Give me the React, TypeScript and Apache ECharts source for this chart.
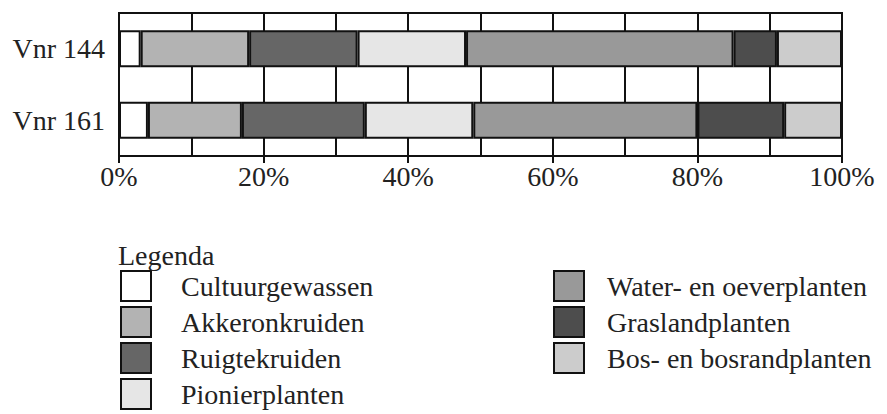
import React, { useEffect, useRef } from "react";
import * as echarts from "echarts";

const categories = ["Vnr 144", "Vnr 161"];
const seriesNames = [
  "Cultuurgewassen",
  "Akkeronkruiden",
  "Ruigtekruiden",
  "Pionierplanten",
  "Water- en oeverplanten",
  "Graslandplanten",
  "Bos- en bosrandplanten",
];
const cultuurgewassen = [3, 4];
const akkeronkruiden = [15, 13];
const ruigtekruiden = [15, 17];
const pionierplanten = [15, 15];
const waterplanten = [37, 31];
const graslandplanten = [6, 12];
const bosplanten = [9, 8];
const seriesValues = [
  cultuurgewassen,
  akkeronkruiden,
  ruigtekruiden,
  pionierplanten,
  waterplanten,
  graslandplanten,
  bosplanten,
];
const colors = ["#ffffff", "#b3b3b3", "#666666", "#e6e6e6", "#999999", "#4d4d4d", "#cccccc"];

const FONT = "Liberation Serif";
const INK = "#222222";

export default function App() {
  const ref = useRef<HTMLDivElement>(null);
  useEffect(() => {
    if (!ref.current) return;
    const chart = echarts.init(ref.current, null, { renderer: "svg" });
    const legendCommon = {
      orient: "vertical",
      top: 270,
      height: 160,
      padding: 0,
      itemWidth: 30,
      itemHeight: 30,
      itemGap: 4,
      icon: "rect",
      selectedMode: false,
    };
    chart.setOption({
      animation: false,
      textStyle: { fontFamily: FONT, color: INK },
      title: {
        text: "Legenda",
        left: 118,
        top: 241,
        padding: 0,
        textStyle: { fontFamily: FONT, fontSize: 28, fontWeight: "normal", color: INK },
      },
      grid: {
        left: 119,
        right: 45,
        top: 13,
        bottom: 258,
        show: true,
        borderColor: "#111",
        borderWidth: 2,
      },
      legend: [
        {
          ...legendCommon,
          data: seriesNames.slice(0, 4),
          left: 120,
          textStyle: {
            fontFamily: FONT,
            fontSize: 28,
            color: INK,
            lineHeight: 22,
            padding: [8, 0, 0, 25],
          },
        },
        {
          ...legendCommon,
          data: seriesNames.slice(4),
          left: 553,
          textStyle: {
            fontFamily: FONT,
            fontSize: 28,
            color: INK,
            lineHeight: 22,
            padding: [8, 0, 0, 18],
          },
        },
      ],
      xAxis: {
        type: "value",
        min: 0,
        max: 100,
        interval: 20,
        axisLine: { show: true, lineStyle: { color: "#111", width: 2 } },
        axisTick: { show: true, length: 7, lineStyle: { color: "#111", width: 2 } },
        minorTick: { show: false, splitNumber: 2 },
        splitLine: { show: true, lineStyle: { color: "#111", width: 2 } },
        minorSplitLine: { show: true, lineStyle: { color: "#111", width: 2 } },
        axisLabel: {
          formatter: "{value}%",
          fontFamily: FONT,
          fontSize: 28,
          color: INK,
          margin: 6,
        },
      },
      yAxis: {
        type: "category",
        data: categories,
        inverse: true,
        axisLine: { show: true, lineStyle: { color: "#111", width: 2 } },
        axisTick: { show: false },
        splitLine: { show: false },
        axisLabel: { fontFamily: FONT, fontSize: 28, color: INK, margin: 14 },
      },
      series: seriesNames.map((name, i) => ({
        name,
        type: "bar",
        stack: "total",
        barWidth: 37,
        data: seriesValues[i],
        itemStyle: { color: colors[i], borderColor: "#111", borderWidth: 2 },
      })),
    });
    return () => chart.dispose();
  }, []);
  return (
    <div
      ref={ref}
      style={{ position: "fixed", left: 0, top: 0, width: 887, height: 414, background: "#fff" }}
    />
  );
}
